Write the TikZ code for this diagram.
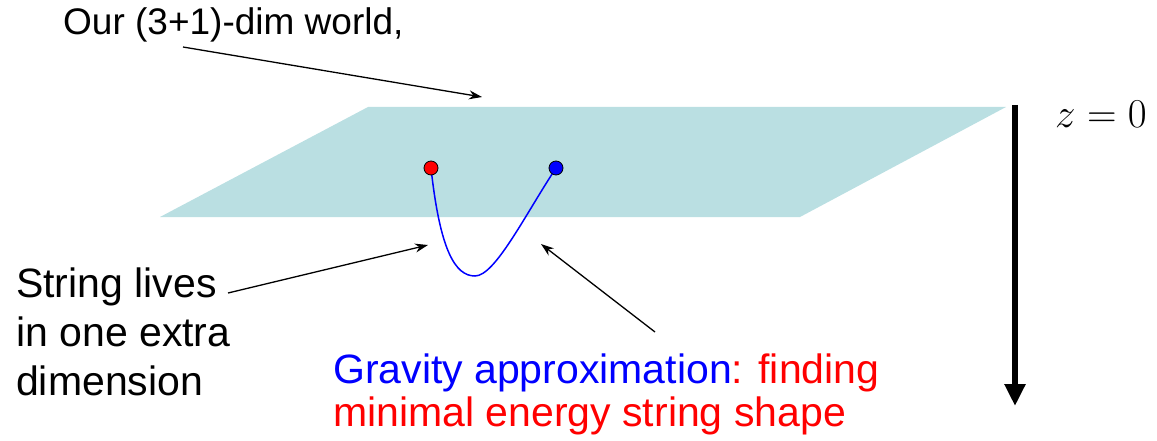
\RequirePackage{fix-cm}
\documentclass[tikz,border=0pt]{standalone}
\usepackage{fontspec}
\setmainfont{Liberation Sans}
\usetikzlibrary{arrows.meta}
\definecolor{planecol}{RGB}{186,223,226}
\definecolor{pureblue}{RGB}{0,0,255}
\definecolor{purered}{RGB}{255,0,0}
\tikzset{
  lbl/.style={inner sep=0pt, anchor=base west, align=left},
  pointer/.style={draw=black, line width=1.3pt, -{Stealth[length=13pt,width=9pt]}},
  endpt/.style={circle, draw=black, line width=0.8pt, minimum width=12pt, minimum height=14pt, inner sep=0pt}
}
\begin{document}
\begin{tikzpicture}[x=1pt,y=-1pt]
\useasboundingbox (0,0) rectangle (1157,441);
% plane
\fill[planecol] (368,107) -- (1006,107) -- (800,217) -- (160,217) -- cycle;
% string
\draw[pureblue, line width=1.5pt] (431,168) .. controls (440,250) and (455,276) .. (475,276) .. controls (495,276) and (525,215) .. (556,168);
\node[endpt, fill=purered] (rd) at (431,168) {};
\node[endpt, fill=pureblue] (bd) at (556,168) {};
% texts
\node[lbl, font=\fontsize{37}{44}\selectfont] (world) at (63,35) {Our (3+1)-dim world,};
\node[lbl, font=\fontsize{41}{49}\selectfont] (str) at (16,395) {String lives\\in one extra\\dimension};
\node[lbl, font=\fontsize{41}{43}\selectfont] (grav) at (333,426) {\textcolor{pureblue}{Gravity approximation}\textcolor{purered}{: finding}\\\textcolor{purered}{minimal energy string shape}};
\node[inner sep=0pt, anchor=base west, font=\fontsize{41}{48}\selectfont] (z0) at (1055,128) {$z=0$};
% arrow anchors
\coordinate (w1) at (183,47);
\coordinate (w2) at (482,97);
\coordinate (s1) at (228,293);
\coordinate (s2) at (428,245);
\coordinate (g1) at (655,332);
\coordinate (g2) at (541,244);
\coordinate (ztop) at (1015,105);
\coordinate (zbot) at (1015,406);
\draw[pointer] (w1) -- (w2);
\draw[pointer] (s1) -- (s2);
\draw[pointer] (g1) -- (g2);
\draw[line width=6pt, -{Triangle[length=22pt,width=20pt]}] (ztop) -- (zbot);
\end{tikzpicture}
\end{document}
